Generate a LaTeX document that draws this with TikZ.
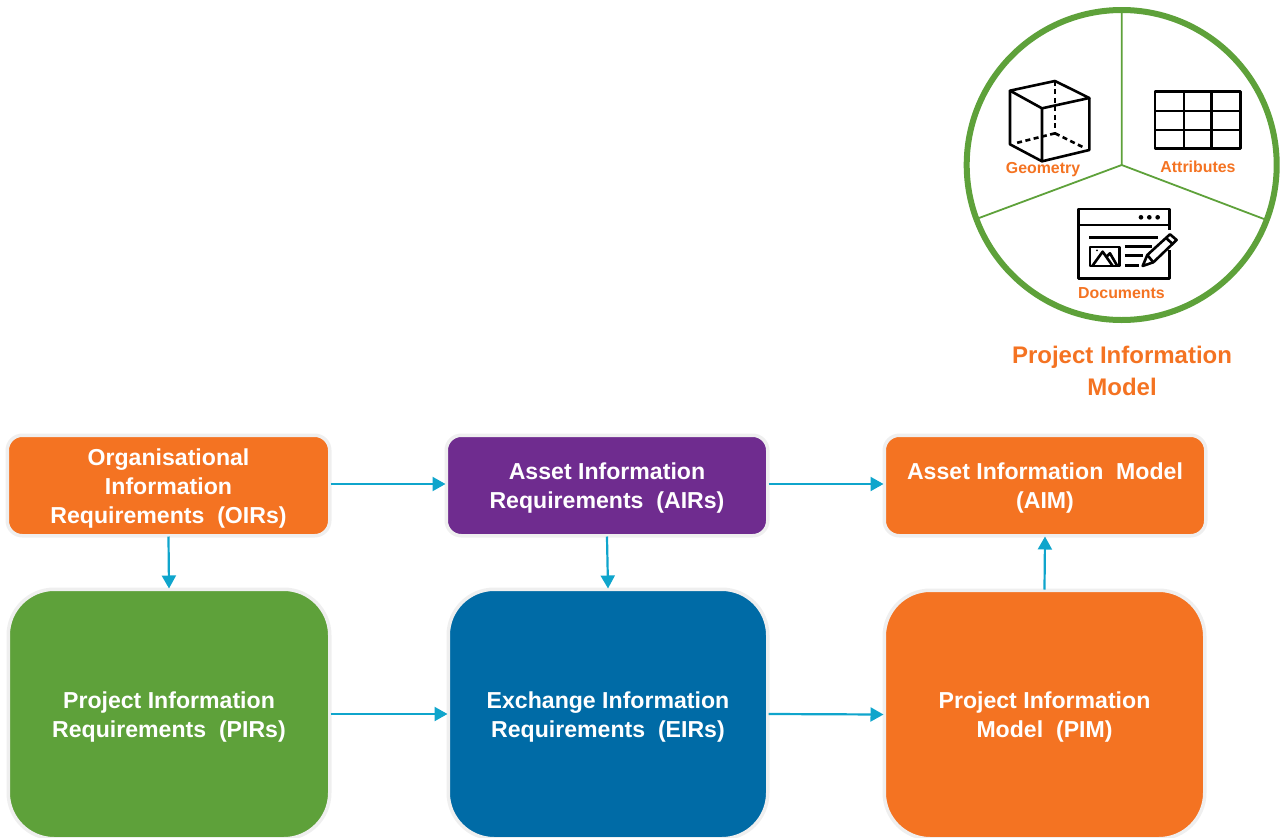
\documentclass[tikz,border=0pt]{standalone}
\usepackage{fontspec}
\setmainfont{Liberation Sans}
\definecolor{cOrange}{HTML}{F47322}
\definecolor{cGreen}{HTML}{5EA13A}
\definecolor{cPurple}{HTML}{6F2C8F}
\definecolor{cBlue}{HTML}{006BA6}
\definecolor{cArrow}{HTML}{0FA5CC}
\definecolor{cHalo}{HTML}{EFEFEF}
\usetikzlibrary{arrows.meta}
\newcommand\boxlines[1]{\raisebox{-3pt}[\height][\depth]{\begin{tabular}{@{}c@{}}#1\end{tabular}}}
\tikzset{
  box/.style={rounded corners=#1, draw=cHalo, line width=3.5pt, text=white, inner sep=0pt,
    font=\fontsize{23.1}{29}\selectfont\bfseries},
  flow/.style={draw=cArrow, line width=2.2pt, shorten >=-1pt, shorten <=-1pt, -{Triangle[length=13pt,width=14pt]}},
  icon/.style={draw=black, line width=2.6pt, line join=round},
  small/.style={text=cOrange, font=\fontsize{15.9}{18}\selectfont\bfseries, inner sep=0pt},
  big/.style={text=cOrange, align=center, inner sep=0pt, font=\fontsize{24}{32}\selectfont\bfseries},
  spoke/.style={draw=cGreen, line width=1.8pt},
}
\begin{document}
\begin{tikzpicture}[x=1pt,y=-1pt]
\useasboundingbox (0,0) rectangle (1288,838);
% boxes
\node[box=15pt, fill=cOrange, minimum width=322.5pt, minimum height=100.5pt] (oir) at (168.5,485.5) {\boxlines{Organisational\\Information\\Requirements\ \ (OIRs)}};
\node[box=15pt, fill=cPurple, minimum width=321.5pt, minimum height=100.5pt] (air) at (607,485.5) {\boxlines{Asset Information\\Requirements\ \ (AIRs)}};
\node[box=15pt, fill=cOrange, minimum width=321.5pt, minimum height=100.5pt] (aim) at (1045,485.5) {\boxlines{Asset Information\ \ Model\\(AIM)}};
\node[box=46pt, fill=cGreen, minimum width=321.5pt, minimum height=249.5pt] (pir) at (169,714) {\boxlines{Project Information\\Requirements\ \ (PIRs)}};
\node[box=46pt, fill=cBlue, minimum width=319.5pt, minimum height=249.5pt] (eir) at (608,714) {\boxlines{Exchange Information\\Requirements\ \ (EIRs)}};
\node[box=46pt, fill=cOrange, minimum width=320.5pt, minimum height=248.5pt] (pim) at (1044.5,714.5) {\boxlines{Project Information\\Model\ \ (PIM)}};
% connectors
\draw[flow] ([yshift=1.5pt]oir.east) -- ([yshift=1.5pt]air.west);
\draw[flow] ([yshift=1.5pt]air.east) -- ([yshift=1.5pt]aim.west);
\draw[flow] (oir.south) -- (pir.north);
\draw[flow] (air.south) -- (eir.north);
\draw[flow] (pir.east) -- (eir.west);
\draw[flow] (eir.east) -- (pim.west);
\draw[flow] (pim.north) -- (aim.south);
% circle
\coordinate (hub) at (1121.7,165);
\coordinate (spokeT) at (1121.7,12);
\coordinate (spokeL) at (979,218);
\coordinate (spokeR) at (1264,219);
\draw[spoke] (hub) -- (spokeT) (hub) -- (spokeL) (hub) -- (spokeR);
\draw[draw=cGreen, line width=6pt] (hub) circle[radius=155];
% icons, in zoom coordinates
\begin{scope}[shift={(960,0)}, x=0.3333pt, y=-0.3333pt]
  % cube
  \draw[icon, dash pattern=on 5pt off 3.5pt] (285,243) -- (285,400);
  \draw[icon, dash pattern=on 5pt off 3.5pt] (285,400) -- (165,430) (285,400) -- (370,442);
  \draw[icon] (150,272) -- (285,243) -- (388,294) -- (246,325) -- cycle;
  \draw[icon] (150,272) -- (150,433) -- (246,484) -- (388,450) -- (388,294) (246,325) -- (246,484);
  % table
  \draw[icon] (585,275) rectangle (842,446);
  \draw[icon] (672,275) -- (672,446) (755,275) -- (755,446) (585,333) -- (842,333) (585,390) -- (842,390);
  % document
  \draw[icon] (628,690) -- (628,627) -- (355,627) -- (355,836) -- (628,836) -- (628,750);
  \draw[icon] (355,675) -- (628,675);
  \fill (543,652) circle[radius=7] (568,652) circle[radius=7] (593,652) circle[radius=7];
  \draw[icon] (388,713) -- (595,713);
  \draw[icon] (390,741) rectangle (478,798);
  \draw[icon] (397,798) -- (428,755) -- (458,798) (440,770) -- (450,760) -- (472,798);
  \fill (411,751) circle[radius=3];
  \draw[icon] (495,740) -- (575,740) (495,767) -- (550,767) (495,797) -- (538,797);
  \draw[icon, fill=white] (548,798) -- (562,765) -- (630,703) -- (650,720) -- (580,787) -- cycle;
  \draw[icon] (562,765) -- (580,787) (618,714) -- (638,732);
\end{scope}
% labels
\node[small] (lGeo) at (1043,169.5) {Geometry};
\node[small] (lAtt) at (1198,166.5) {Attributes};
\node[small] (lDoc) at (1121.5,293.5) {Documents};
\node[big] (lPim) at (1122,371) {Project Information\\Model};
\end{tikzpicture}
\end{document}
